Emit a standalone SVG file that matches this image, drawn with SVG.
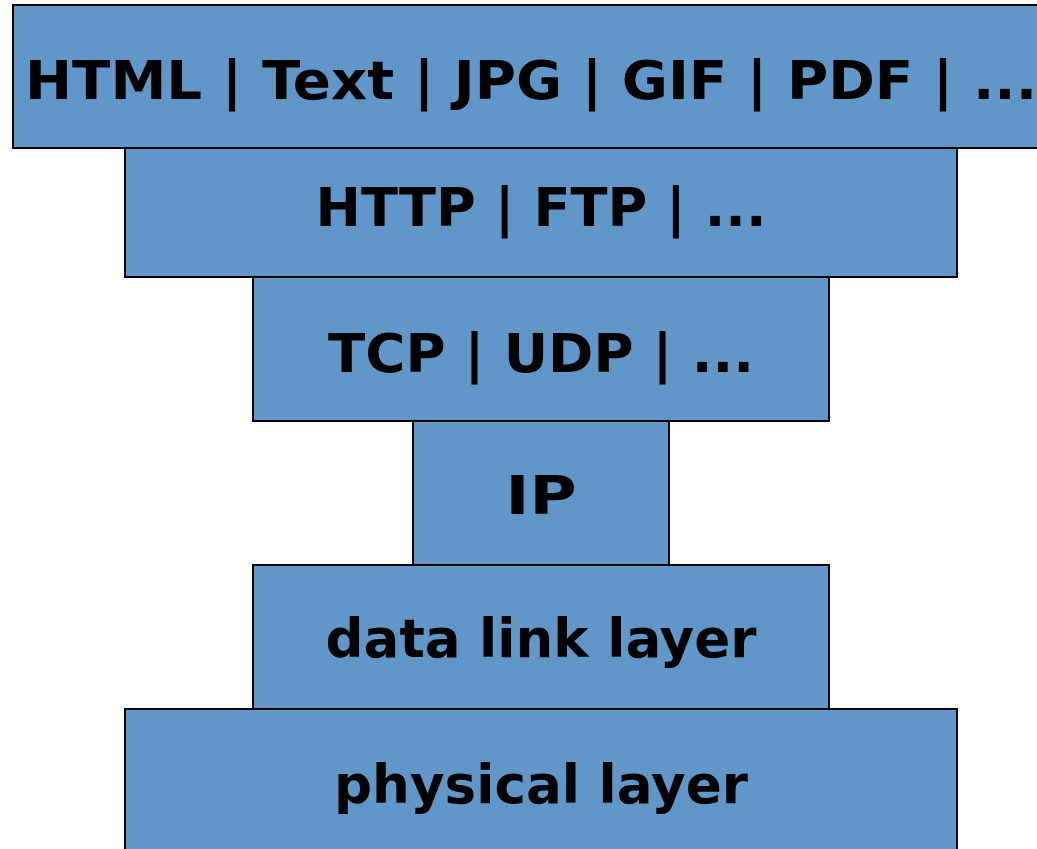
<svg xmlns="http://www.w3.org/2000/svg" width="1037" height="849" viewBox="0 0 1037 849">
<style>
.box{fill:#6096C8;stroke:#000;stroke-width:2}
.lbl{font-family:"DejaVu Sans",Verdana,sans-serif;font-weight:bold;font-size:54px;fill:#000;text-anchor:middle}
</style>
<rect width="1037" height="849" fill="#fff"/>
<g id="connectors"></g>
<g id="physical">
<rect class="box" x="125" y="709" width="832" height="150"/>
<text class="lbl" x="541" y="803" textLength="414" lengthAdjust="spacingAndGlyphs">physical layer</text>
</g>
<g id="datalink">
<rect class="box" x="253" y="565" width="576" height="144"/>
<text class="lbl" x="541" y="657" textLength="431" lengthAdjust="spacingAndGlyphs">data link layer</text>
</g>
<g id="ip">
<rect class="box" x="413" y="421" width="256" height="144"/>
<text class="lbl" x="541" y="514" textLength="71" lengthAdjust="spacingAndGlyphs">IP</text>
</g>
<g id="transport">
<rect class="box" x="253" y="277" width="576" height="144"/>
<text class="lbl" x="541" y="372" textLength="426" lengthAdjust="spacingAndGlyphs">TCP | UDP | ...</text>
</g>
<g id="application">
<rect class="box" x="125" y="148" width="832" height="129"/>
<text class="lbl" x="541" y="226" textLength="451" lengthAdjust="spacingAndGlyphs">HTTP | FTP | ...</text>
</g>
<g id="content">
<rect class="box" x="13" y="5" width="1040" height="143"/>
<text class="lbl" x="531" y="99" textLength="1012" lengthAdjust="spacingAndGlyphs">HTML | Text | JPG | GIF | PDF | ...</text>
</g>
</svg>
